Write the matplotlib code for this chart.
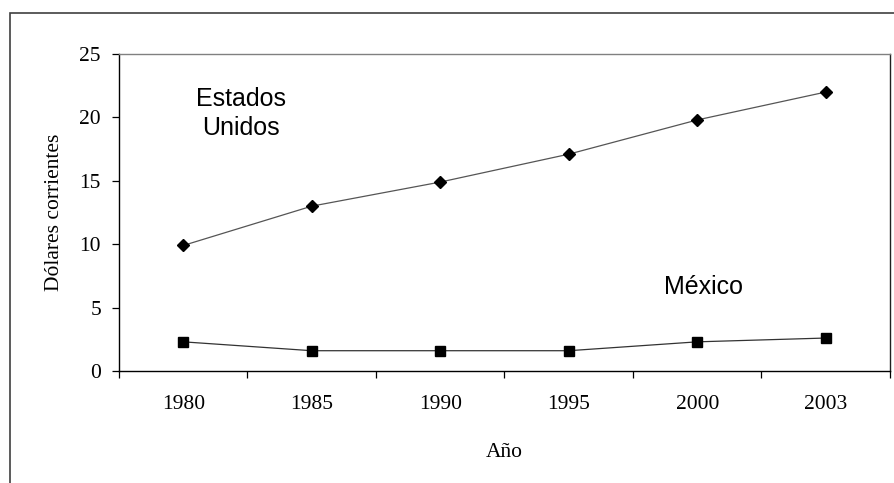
import numpy as np
import matplotlib.pyplot as plt
from matplotlib.patches import Rectangle
from matplotlib.ticker import FixedLocator, NullFormatter

# Data
years = ["1980", "1985", "1990", "1995", "2000", "2003"]
eeuu = [9.9, 13.0, 14.9, 17.1, 19.8, 22.0]
mexico = [2.3, 1.6, 1.6, 1.6, 2.3, 2.6]

W, H = 895, 483
fig = plt.figure(figsize=(W / 100, H / 100), dpi=100)
fig.patch.set_facecolor("white")

# outer chart frame (only top and left visible in the reference)
fig.patches.append(Rectangle((10 / W, -0.2), 1.2, 1.2 - 13 / H,
                             transform=fig.transFigure, fill=False,
                             edgecolor="#404040", linewidth=1.2))

ax = fig.add_axes([119 / W, 1 - 371 / H, (890 - 119) / W, (371 - 54) / H])

x = np.arange(len(years))
ax.plot(x, eeuu, color="#555555", linewidth=0.9, marker="D", markersize=6.2,
        markerfacecolor="black", markeredgecolor="black", zorder=3)
ax.plot(x, mexico, color="#333333", linewidth=0.9, marker="s", markersize=7.5,
        markerfacecolor="black", markeredgecolor="black", zorder=3)

ax.set_xlim(-0.5, len(years) - 0.5)
ax.set_ylim(0, 25)
ax.set_yticks([0, 5, 10, 15, 20, 25])

# category axis: ticks between categories, labels at the centres
ax.xaxis.set_major_locator(FixedLocator(np.arange(-0.5, len(years), 1.0)))
ax.xaxis.set_major_formatter(NullFormatter())
ax.xaxis.set_minor_locator(FixedLocator(x))
ax.set_xticklabels(years, minor=True)
ax.tick_params(axis="x", which="minor", length=0, pad=17)
ax.tick_params(axis="x", which="major", length=5, width=0.9, direction="out")
ax.tick_params(axis="y", length=5, width=0.9, direction="out", pad=8)

serif = ["Liberation Serif", "DejaVu Serif"]
for lab in ax.get_xticklabels(minor=True) + ax.get_yticklabels():
    lab.set_fontfamily(serif)
    lab.set_fontsize(15.5)

ax.set_xlabel("Año", fontfamily=serif, fontsize=15.5, labelpad=21)
ax.set_ylabel("Dólares corrientes", fontfamily=serif, fontsize=15.5, labelpad=11)

for side in ["left", "bottom"]:
    ax.spines[side].set_color("black")
    ax.spines[side].set_linewidth(1.0)
ax.spines["top"].set_color("#808080")
ax.spines["right"].set_color("#202020")
ax.spines["top"].set_linewidth(1.0)
ax.spines["right"].set_linewidth(1.0)

sans = ["Liberation Sans", "DejaVu Sans"]
ax.text(0.45, 20.3, "Estados\nUnidos", ha="center", va="center",
        fontfamily=sans, fontsize=18, linespacing=1.3)
ax.text(4.05, 6.6, "México", ha="center", va="center",
        fontfamily=sans, fontsize=18)

fig.savefig("out.png", dpi=100)
